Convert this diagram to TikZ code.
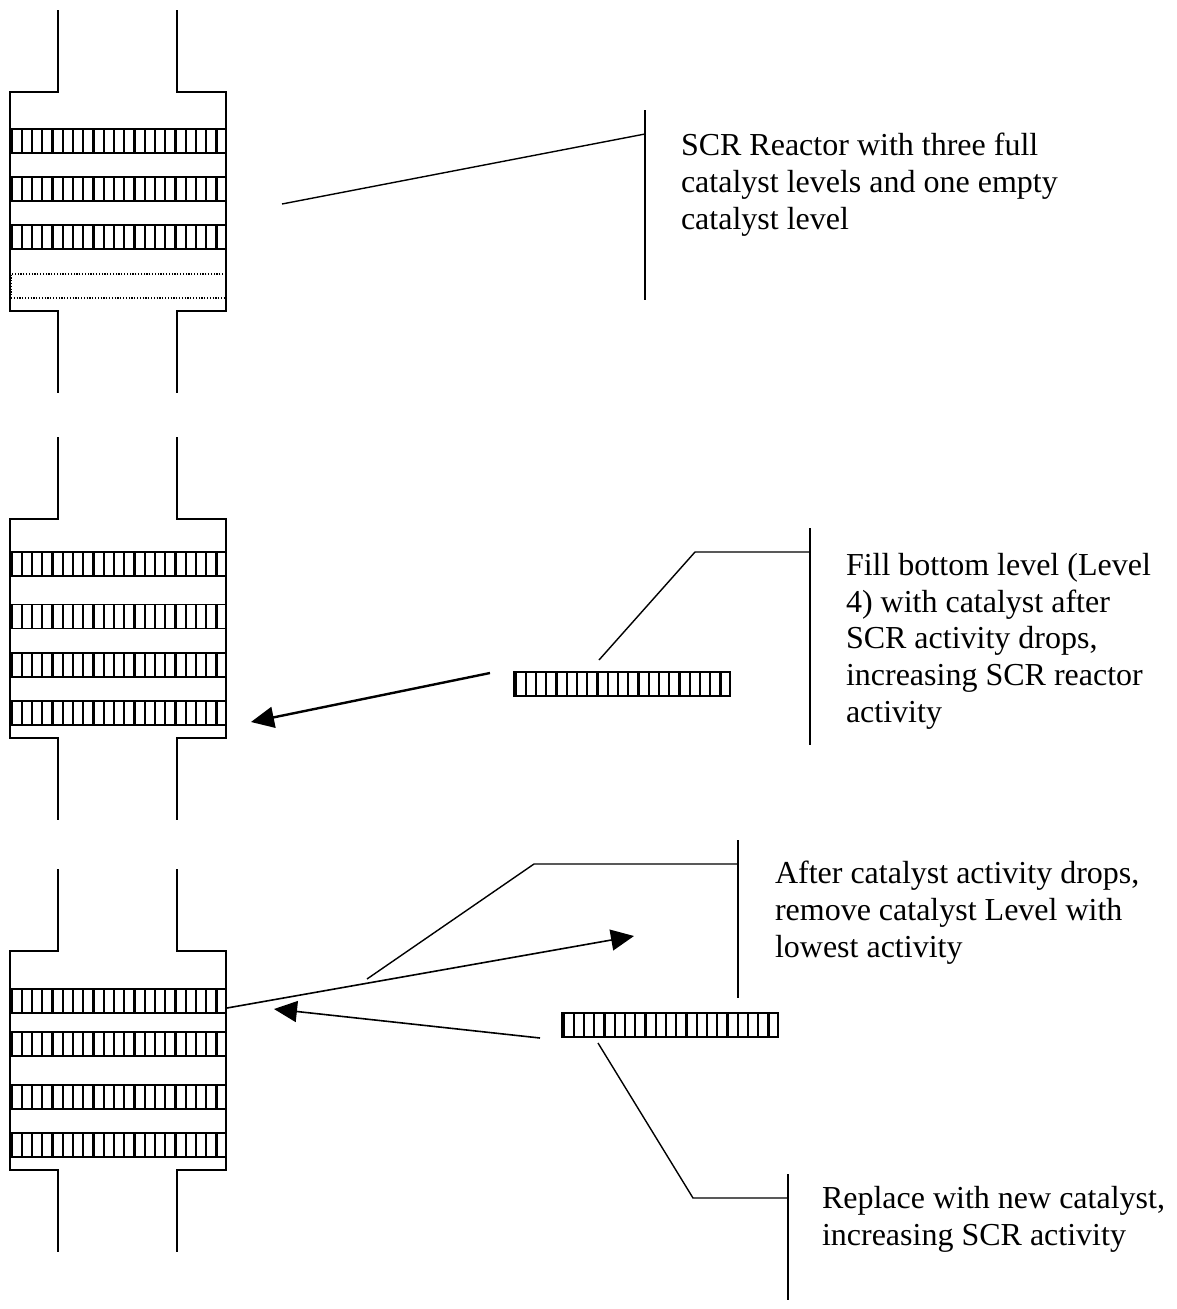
\documentclass[tikz,border=0pt]{standalone}
\usepackage{fontspec}
\setmainfont{Liberation Serif}
\usetikzlibrary{arrows.meta}
\tikzset{
  wall/.style={draw=black,line width=1.5pt},
  leader/.style={draw=black,line width=1.4pt},
  movearrow/.style={draw=black,line width=1.6pt,-{Triangle[length=23pt,width=21pt]}},
  barframe/.style={draw=black,line width=1.8pt,fill=white,minimum width=216pt,minimum height=24pt,inner sep=0pt,outer sep=0pt,anchor=north west},
  divider/.style={draw=black,line width=2.1pt},
  emptylevel/.style={draw=black,line width=1.1pt,dash pattern=on 1.2pt off 1.6pt,minimum width=214.5pt,minimum height=24pt,inner sep=0pt,outer sep=0pt,anchor=north west},
  note/.style={anchor=north west,inner sep=0pt,outer sep=0pt,align=left,font=\fontsize{32}{36.8}\selectfont},
}
% catalyst bar: #1 node name, #2 left x, #3 top y
\newcommand{\catbar}[3]{%
  \node[barframe] (#1) at (#2,#3) {};
  \foreach \i in {0,...,20} {\draw[divider] ({#2+1.5+\i*10.25},#3) -- ({#2+1.5+\i*10.25},#3+24);}
}
% reactor shell: #1 y of the shell top
\newcommand{\shell}[1]{%
  \draw[wall] (58,#1-82) -- (58,#1) -- (10,#1) -- (10,#1+219) -- (58,#1+219) -- (58,#1+301);
  \draw[wall] (177,#1-82) -- (177,#1) -- (226,#1) -- (226,#1+219) -- (177,#1+219) -- (177,#1+301);
}
\begin{document}
\begin{tikzpicture}[x=1pt,y=-1pt]
\useasboundingbox (0,0) rectangle (1176,1309);
% reactor 1
\shell{92}
\catbar{aa}{10}{129}
\catbar{ab}{10}{177}
\catbar{ac}{10}{225}
\node[emptylevel] (ad) at (11,274) {};
% reactor 2
\shell{519}
\catbar{ba}{10}{552}
\catbar{bb}{10}{604.5}
\catbar{bc}{10}{653}
\catbar{bd}{10}{701}
\catbar{bnew}{514}{672}
% reactor 3
\shell{951}
\catbar{ca}{10}{989}
\catbar{cb}{10}{1032}
\catbar{cc}{10}{1085}
\catbar{cd}{10}{1133}
\catbar{cnew}{562}{1013}
% notes
\node[note] (n1) at (681,133) {SCR Reactor with three full\\catalyst levels and one empty\\catalyst level};
\node[note] (n2) at (846,553) {Fill bottom level (Level\\4) with catalyst after\\SCR activity drops,\\increasing SCR reactor\\activity};
\node[note] (n3) at (775,861) {After catalyst activity drops,\\remove catalyst Level with\\lowest activity};
\node[note] (n4) at (822,1186) {Replace with new catalyst,\\increasing SCR activity};
% leader coordinates
\coordinate (l1a) at (282,204); \coordinate (l1b) at (645,134);
\coordinate (v1t) at (645,110); \coordinate (v1b) at (645,300);
\coordinate (l2a) at (599,660); \coordinate (l2b) at (695,552); \coordinate (l2c) at (810,552);
\coordinate (v2t) at (810,528); \coordinate (v2b) at (810,745);
\coordinate (l3a) at (367,979); \coordinate (l3b) at (534,864); \coordinate (l3c) at (738,864);
\coordinate (v3t) at (738,840); \coordinate (v3b) at (738,998);
\coordinate (l4a) at (598,1043); \coordinate (l4b) at (693,1198); \coordinate (l4c) at (788,1198);
\coordinate (v4t) at (788,1174); \coordinate (v4b) at (788,1300);
\draw[leader] (l1a) -- (l1b);
\draw[leader] (v1t) -- (v1b);
\draw[leader] (l2a) -- (l2b) -- (l2c);
\draw[leader] (v2t) -- (v2b);
\draw[leader] (l3a) -- (l3b) -- (l3c);
\draw[leader] (v3t) -- (v3b);
\draw[leader] (l4a) -- (l4b) -- (l4c);
\draw[leader] (v4t) -- (v4b);
% arrows
\coordinate (a1s) at (490,673); \coordinate (a1e) at (251,722);
\coordinate (a2s) at (227,1008); \coordinate (a2e) at (634,936);
\coordinate (a3s) at (540,1038); \coordinate (a3e) at (274,1009);
\draw[movearrow,line width=2.4pt] (a1s) -- (a1e);
\draw[movearrow] (a2s) -- (a2e);
\draw[movearrow] (a3s) -- (a3e);
\end{tikzpicture}
\end{document}
